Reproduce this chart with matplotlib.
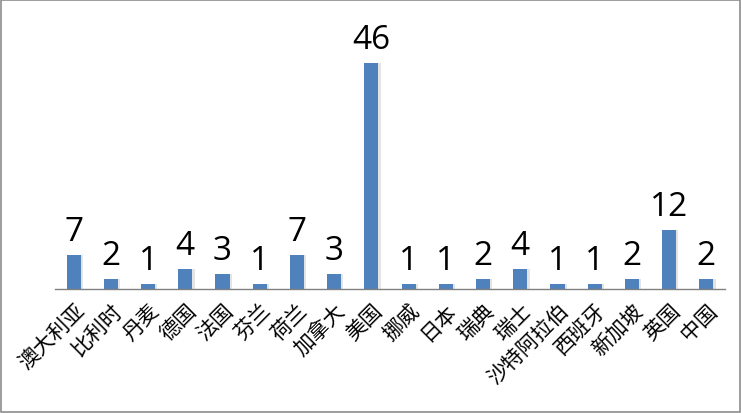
import matplotlib
matplotlib.use("Agg")
import matplotlib.pyplot as plt
from matplotlib.patches import Rectangle

categories = ["澳大利亚", "比利时", "丹麦", "德国", "法国", "芬兰", "荷兰", "加拿大", "美国",
              "挪威", "日本", "瑞典", "瑞士", "沙特阿拉伯", "西班牙", "新加坡", "英国", "中国"]
values = [7, 2, 1, 4, 3, 1, 7, 3, 46, 1, 1, 2, 4, 1, 1, 2, 12, 2]

plt.rcParams['font.family'] = ['Noto Sans CJK SC', 'DejaVu Sans']

fig = plt.figure(figsize=(7.41, 4.14), dpi=100)
W, H = 741, 414
left, right, base, top = 55, 725, 290, 44
ax = fig.add_axes([left / W, (H - base) / H, (right - left) / W, (base - top) / H])

x = list(range(len(categories)))
ax.bar([i + 0.06 for i in x], values, width=0.38, color='#e4e4e4', zorder=1)
bars = ax.bar(x, values, width=0.38, color='#4F81BD', zorder=2)
for i, v in zip(x, values):
    ax.annotate(str(v), (i, v), xytext=(0, 5), textcoords='offset points',
                ha='center', va='bottom', fontsize=24,
                family=['Open Sans', 'DejaVu Sans'], color='black')

ax.set_xlim(-0.5, len(categories) - 0.5)
ax.set_ylim(0, 50)
ax.set_yticks([])
for s in ['left', 'right', 'top']:
    ax.spines[s].set_visible(False)
ax.spines['bottom'].set_color('#808080')
ax.spines['bottom'].set_linewidth(1.0)
ax.set_xticks(x)
ax.set_xticklabels(categories, rotation=45, ha='right', rotation_mode='anchor', fontsize=15)
ax.tick_params(axis='x', length=0, pad=7)
ax.patch.set_alpha(0)

fig.patches.append(Rectangle((0.001, 0.002), 0.997, 0.995, transform=fig.transFigure,
                             fill=False, edgecolor='#8c8c8c', linewidth=1.2))
fig.savefig('out.png', dpi=100)
